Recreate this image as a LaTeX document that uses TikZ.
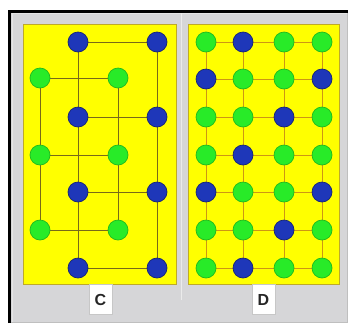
\documentclass[tikz,border=0pt]{standalone}
\usepackage{fontspec}
\newfontfamily\labfont{Liberation Sans}
\pgfdeclarelayer{back}
\pgfdeclarelayer{mid}
\pgfsetlayers{back,mid,main}
\definecolor{framegray}{RGB}{214,214,216}
\definecolor{panelyellow}{RGB}{255,255,0}
\definecolor{paneledge}{RGB}{190,170,40}
\definecolor{ballblue}{RGB}{30,55,185}
\definecolor{ballblueedge}{RGB}{20,35,120}
\definecolor{ballgreen}{RGB}{40,235,40}
\definecolor{ballgreenedge}{RGB}{30,185,30}
\definecolor{cline}{RGB}{120,105,25}
\definecolor{dline}{RGB}{205,150,20}
\tikzset{
  ball/.style={circle, minimum size=20pt, inner sep=0pt, line width=0.7pt},
  bball/.style={ball, fill=ballblue, draw=ballblueedge},
  gball/.style={ball, fill=ballgreen, draw=ballgreenedge},
  cedge/.style={draw=cline, line width=0.8pt},
  dedge/.style={draw=dline, line width=0.9pt},
  panel/.style={fill=panelyellow, draw=paneledge, line width=0.8pt},
  labbox/.style={fill=white, draw=black!22, line width=0.6pt, minimum width=23pt, minimum height=30pt, inner sep=0pt, font=\labfont\bfseries\fontsize{16}{16}\selectfont, text=black!85}
}
\begin{document}
\begin{tikzpicture}[x=1pt,y=-1pt]
\useasboundingbox (0,0) rectangle (352,325);
\begin{pgfonlayer}{back}
  \fill[white] (0,0) rectangle (352,325);
  \fill[framegray] (8,10) rectangle (348,323);
  \draw[black!25, line width=1pt] (347.5,10) -- (347.5,322.5) -- (8,322.5);
  \draw[white!90!black, line width=1.2pt] (12.5,322) -- (12.5,13.5) -- (347,13.5);
  \draw[black, line width=3pt] (9.5,323) -- (9.5,11.5) -- (348,11.5);
  \draw[white!92!black, line width=1.5pt] (181.5,13) -- (181.5,300);
  \draw[panel] (23,24) rectangle (176,284);
  \draw[panel] (188,24) rectangle (339,284);
\end{pgfonlayer}
% ---- panel C nodes
\foreach \n/\x/\y in {b1/78/42, b2/157/42, b3/78/117, b4/157/117, b5/78/192, b6/157/192, b7/78/268, b8/157/268}
  \node[bball] (c\n) at (\x,\y) {};
\foreach \n/\x/\y in {g1/40/78, g2/118/78, g3/40/155, g4/118/155, g5/40/230, g6/118/230}
  \node[gball] (c\n) at (\x,\y) {};
\begin{pgfonlayer}{mid}
  \foreach \a/\b in {b1/b2, b3/b4, b5/b6, b7/b8, g1/g2, g3/g4, g5/g6,
                     b1/b3, b3/b5, b5/b7, b2/b4, b4/b6, b6/b8,
                     g1/g3, g3/g5, g2/g4, g4/g6}
    \draw[cedge] (c\a.center) -- (c\b.center);
\end{pgfonlayer}
% ---- panel D nodes
\foreach \y [count=\rr] in {42,79,117,155,192,230,268} {
  \foreach \x [count=\cc] in {206,243,284,322} {
    \pgfmathtruncatemacro\mm{mod(\rr+\cc,3)}
    \ifnum\mm=0 \def\fc{ballblue}\def\dc{ballblueedge}\else\def\fc{ballgreen}\def\dc{ballgreenedge}\fi
    \node[ball, fill=\fc, draw=\dc] (d\rr x\cc) at (\x,\y) {};
  }
}
\begin{pgfonlayer}{mid}
  \foreach \rr in {1,...,7} {
    \foreach \cc in {1,2,3} {
      \pgfmathtruncatemacro\cn{\cc+1}
      \draw[dedge] (d\rr x\cc.center) -- (d\rr x\cn.center);
    }
  }
  \foreach \cc in {1,...,4} {
    \foreach \rr in {1,...,6} {
      \pgfmathtruncatemacro\rn{\rr+1}
      \draw[dedge] (d\rr x\cc.center) -- (d\rn x\cc.center);
    }
  }
\end{pgfonlayer}
% ---- labels
\node[labbox] (labC) at (100.5,299.5) {C};
\node[labbox] (labD) at (263.5,299.5) {D};
\end{tikzpicture}
\end{document}
